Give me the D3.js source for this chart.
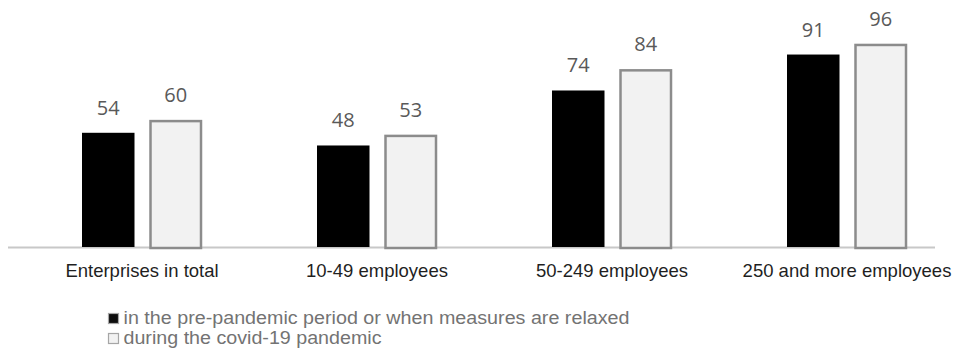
<!DOCTYPE html>
<html>
<head>
<meta charset="utf-8">
<script src="https://cdn.jsdelivr.net/npm/d3@7"></script>
<style>
  html, body { margin: 0; padding: 0; background: #fff; }
  svg { display: block; }
</style>
</head>
<body>
<svg id="chart" width="955" height="357"></svg>
<script>
const categories = ["Enterprises in total", "10-49 employees", "50-249 employees", "250 and more employees"];
const seriesNames = ["in the pre-pandemic period or when measures are relaxed", "during the covid-19 pandemic"];
const preValues = [54, 48, 74, 91];
const covidValues = [60, 53, 84, 96];

const svg = d3.select("#chart");
const baseY = 247;

const x = d3.scaleBand().domain(categories).range([24.5, 964.5]).paddingInner(0).paddingOuter(0);
const y = d3.scaleLinear().domain([0, 100]).range([baseY, baseY - 211.5]);

const fills = ["#000000", "#f2f2f2"];
const strokes = ["none", "#8c8c8c"];
const barW = 52.5;
const gap = 15;
const offsets = [-(gap / 2) - barW, gap / 2];

const rows = categories.map((c, i) => ({ cat: c, vals: [preValues[i], covidValues[i]] }));

// baseline axis
svg.append("line")
  .attr("x1", 8).attr("x2", 935)
  .attr("y1", baseY + 0.5).attr("y2", baseY + 0.5)
  .attr("stroke", "#c8c8c8").attr("stroke-width", 2);

const groups = svg.selectAll("g.grp").data(rows).enter().append("g")
  .attr("class", "grp")
  .attr("transform", d => `translate(${x(d.cat) + x.bandwidth() / 2},0)`);

[0, 1].forEach(s => {
  groups.append("rect")
    .attr("x", offsets[s] + (s === 1 ? 1 : 0))
    .attr("y", d => y(d.vals[s]) + (s === 1 ? 1 : 0))
    .attr("width", barW - (s === 1 ? 2 : 0))
    .attr("height", d => baseY - y(d.vals[s]))
    .attr("fill", fills[s])
    .attr("stroke", strokes[s])
    .attr("stroke-width", s === 1 ? 2.5 : 0);

  groups.append("text")
    .attr("x", offsets[s] + barW / 2)
    .attr("y", d => y(d.vals[s]) - 18)
    .attr("text-anchor", "middle")
    .attr("font-family", "'Open Sans', sans-serif")
    .attr("font-size", 20)
    .attr("fill", "#595959")
    .text(d => d.vals[s]);
});

// category labels
svg.selectAll("text.cat").data(categories).enter().append("text")
  .attr("class", "cat")
  .attr("x", d => x(d) + x.bandwidth() / 2)
  .attr("y", 277)
  .attr("text-anchor", "middle")
  .attr("font-family", "'Liberation Sans', Arial, sans-serif")
  .attr("font-size", 18.5)
  .attr("fill", "#1f1f1f")
  .text(d => d);

// legend
const legend = svg.append("g");
const legendWidths = [506, 258];
seriesNames.forEach((name, i) => {
  const base = 324 + i * 20;
  legend.append("rect")
    .attr("x", 108.5).attr("y", base - 10.5)
    .attr("width", 10).attr("height", 10)
    .attr("fill", i === 0 ? "#0d0d0d" : "#f2f2f2")
    .attr("stroke", "#a6a6a6")
    .attr("stroke-width", 1.2);
  legend.append("text")
    .attr("x", 123.5).attr("y", base)
    .attr("font-family", "'Liberation Sans', Arial, sans-serif")
    .attr("font-size", 17.5)
    .attr("textLength", legendWidths[i])
    .attr("lengthAdjust", "spacingAndGlyphs")
    .attr("fill", "#737373")
    .text(name);
});
</script>
</body>
</html>
